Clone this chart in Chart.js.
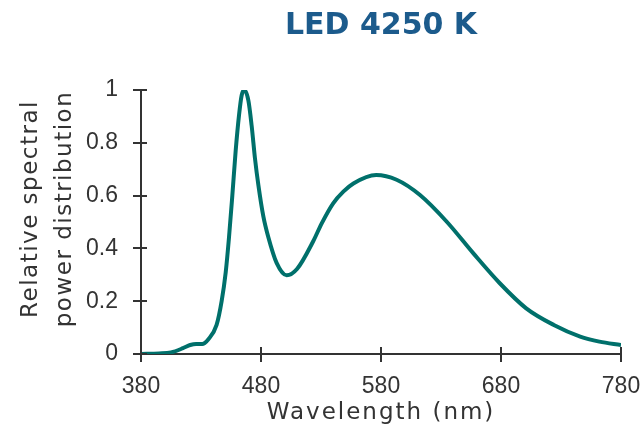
<!DOCTYPE html>
<html>
<head>
<meta charset="utf-8">
<script src="https://cdn.jsdelivr.net/npm/chart.js@4.4.1/dist/chart.umd.min.js"></script>
<style>
html,body{margin:0;padding:0;background:#fff;}
#wrap{width:641px;height:428px;}
</style>
</head>
<body>
<div id="wrap"><canvas id="c" width="641" height="428"></canvas></div>
<script>
const titleText = 'LED 4250 K';
const xTitle = 'Wavelength (nm)';
const yTitleLines = ['Relative spectral', 'power distribution'];
const wavelengths = [380,395,405,415,421,426,431,436,443,447.2,450.6,453.3,456.1,458.9,461.7,463.9,466,469.5,472.2,475,477.8,482,486,493,501.4,510,523.6,530.6,540,548.6,557,576,593,612.5,635,657,679,701,724,746,762,780];
const spd =         [0,0.002,0.006,0.022,0.034,0.038,0.038,0.055,0.11,0.2,0.31,0.44,0.6,0.77,0.905,0.98,1.0,0.96,0.865,0.74,0.64,0.52,0.444,0.345,0.298,0.322,0.428,0.495,0.57,0.615,0.646,0.678,0.66,0.602,0.50,0.381,0.268,0.173,0.11,0.066,0.047,0.034];
const xTicks = [380,480,580,680,780];
const yTicks = [0,0.2,0.4,0.6,0.8,1];

const axisColor = '#333333';
const lineColor = '#00706b';
const titleFont = '23px "DejaVu Sans", sans-serif';

const extras = {
  id: 'extras',
  afterDraw(chart) {
    const ctx = chart.ctx;
    const xs = chart.scales.x, ys = chart.scales.y;
    ctx.save();
    ctx.strokeStyle = axisColor;
    ctx.lineWidth = 2;
    const ya = ys.getPixelForValue(0);
    xTicks.forEach(v => {
      const px = Math.round(xs.getPixelForValue(v));
      ctx.beginPath(); ctx.moveTo(px, ya - 7); ctx.lineTo(px, ya + 8); ctx.stroke();
    });
    const xa = xs.getPixelForValue(380);
    yTicks.forEach(v => {
      const py = Math.round(ys.getPixelForValue(v));
      ctx.beginPath(); ctx.moveTo(xa - 8, py); ctx.lineTo(xa + 6, py); ctx.stroke();
    });
    ctx.fillStyle = axisColor;
    ctx.font = titleFont;
    ctx.textAlign = 'center';
    ctx.textBaseline = 'middle';
    ctx.letterSpacing = '2px';
    ctx.fillText(xTitle, (chart.chartArea.left + chart.chartArea.right) / 2, 413);
    ctx.letterSpacing = '1.5px';
    const cy = 209;
    const xsLines = [31, 65];
    yTitleLines.forEach((t, i) => {
      ctx.save();
      ctx.translate(xsLines[i], cy);
      ctx.rotate(-Math.PI / 2);
      ctx.fillText(t, 0, 0);
      ctx.restore();
    });
    ctx.restore();
  }
};

new Chart(document.getElementById('c'), {
  type: 'line',
  data: {
    datasets: [{
      data: wavelengths.map((w, i) => ({x: w, y: spd[i]})),
      borderColor: lineColor,
      borderWidth: 4,
      pointRadius: 0,
      fill: false,
      cubicInterpolationMode: 'monotone'
    }]
  },
  options: {
    responsive: false,
    animation: false,
    layout: {padding: 0},
    plugins: {
      legend: {display: false},
      tooltip: {enabled: false},
      title: {
        display: true,
        text: titleText,
        fullSize: false,
        color: '#1c5b8c',
        font: {family: '"DejaVu Sans", sans-serif', size: 30, weight: 'bold'},
        padding: {top: 8, bottom: 46}
      }
    },
    scales: {
      x: {
        type: 'linear',
        min: 380, max: 780,
        afterFit(s) { s.height = 74; s.paddingRight = 20; s.paddingLeft = 0; },
        afterBuildTicks(s) { s.ticks = xTicks.map(v => ({value: v})); },
        grid: {display: false, drawTicks: false},
        border: {display: true, color: axisColor, width: 2},
        ticks: {color: axisColor, padding: 19, font: {family: '"Liberation Sans", Arial, sans-serif', size: 23}, maxRotation: 0},
        title: {display: false}
      },
      y: {
        min: 0, max: 1,
        afterFit(s) { s.width = 141; },
        afterBuildTicks(s) { s.ticks = yTicks.map(v => ({value: v})); },
        grid: {display: false, drawTicks: false},
        border: {display: true, color: axisColor, width: 2},
        ticks: {color: axisColor, padding: 23, font: {family: '"Liberation Sans", Arial, sans-serif', size: 23}, callback: v => String(v)}
      }
    }
  },
  plugins: [extras]
});
</script>
</body>
</html>
